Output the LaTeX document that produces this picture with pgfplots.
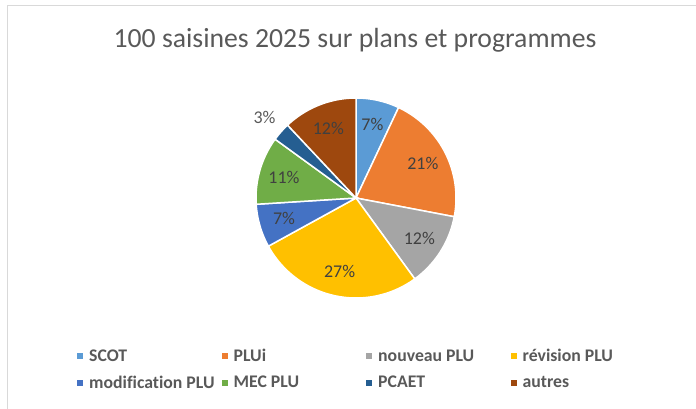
\documentclass[border=0pt]{standalone}
\usepackage{pgfplots}
\pgfplotsset{compat=1.18}
\usepackage{pgfplotstable}
\usepackage{fontspec}
\setmainfont{Carlito}[Ligatures=NoCommon]

\definecolor{c0}{HTML}{5B9BD5}
\definecolor{c1}{HTML}{ED7D31}
\definecolor{c2}{HTML}{A5A5A5}
\definecolor{c3}{HTML}{FFC000}
\definecolor{c4}{HTML}{4472C4}
\definecolor{c5}{HTML}{70AD47}
\definecolor{c6}{HTML}{255E91}
\definecolor{c7}{HTML}{9E480E}
\definecolor{txt}{HTML}{595959}
\definecolor{lbl}{HTML}{404040}
\definecolor{cadre}{HTML}{D9D9D9}

% saisines par type (sur 100)
\pgfplotstableread[col sep=comma]{
name,value
SCOT,7
PLUi,21
nouveau PLU,12
révision PLU,27
modification PLU,7
MEC PLU,11
PCAET,3
autres,12
}\saisines

\begin{document}
\begin{tikzpicture}
\begin{axis}[
    name=ax,
    width=696bp, height=409bp, scale only axis,
    xmin=0, xmax=696, ymin=0, ymax=409, y dir=reverse,
    hide axis, clip=false,
    legend columns=4,
    legend style={at={(axis cs:77,349)}, anchor=north west, draw=none, fill=none,
        inner sep=0pt, column sep=0pt, row sep=12.5bp,
        font=\fontsize{17.8}{17.8}\selectfont\bfseries, text=txt,
        nodes={inner sep=0pt}},
    legend image code/.code={\fill[#1, draw=none] (0bp,-3bp) rectangle (6bp,3bp);},
]
% cadre
\draw[cadre, line width=1.2bp] (axis cs:7.5,409) -- (axis cs:7.5,5.5) -- (axis cs:696,5.5);
\node[font=\fontsize{27.8}{27.8}\selectfont, text=txt] at (axis cs:355,40) {100 saisines 2025 sur plans et programmes};

\pgfplotstablegetrowsof{\saisines}
\pgfmathtruncatemacro\last{\pgfplotsretval-1}
\def\cum{0}
\pgfplotsforeachungrouped \i in {0,...,\last}{%
    \pgfplotstablegetelem{\i}{value}\of\saisines \let\val\pgfplotsretval
    \pgfplotstablegetelem{\i}{name}\of\saisines \let\nom\pgfplotsretval
    \pgfmathsetmacro\a{3.6*\cum}
    \pgfmathsetmacro\b{3.6*(\cum+\val)}
    \pgfmathsetmacro\m{(\a+\b)/2}
    \pgfmathsetmacro\cum{\cum+\val}
    \ifnum\val<5 \def\r{122}\def\lc{txt}\else \def\r{75}\def\lc{lbl}\fi
    \pgfmathsetmacro\lx{356+\r*sin(\m)}
    \pgfmathsetmacro\ly{198-\r*cos(\m)}
    \edef\slice{%
        \noexpand\addplot[fill=c\i, draw=white, line width=1.5bp, domain=\a:\b, samples=60, variable=\noexpand\t]
            ({356+100*sin(\noexpand\t)},{198-100*cos(\noexpand\t)}) -- (axis cs:356,198) -- cycle;
        \noexpand\addlegendentry{\noexpand\makebox[138.5bp][l]{\noexpand\hspace{6bp}\nom}}
        \noexpand\node[text=\lc, font=\noexpand\fontsize{18}{18}\noexpand\selectfont] at (axis cs:\lx,\ly) {\val\noexpand\%};
    }%
    \slice
}
\end{axis}
\pgfresetboundingbox
\path (ax.south west) rectangle (ax.north east);
\end{tikzpicture}
\end{document}
